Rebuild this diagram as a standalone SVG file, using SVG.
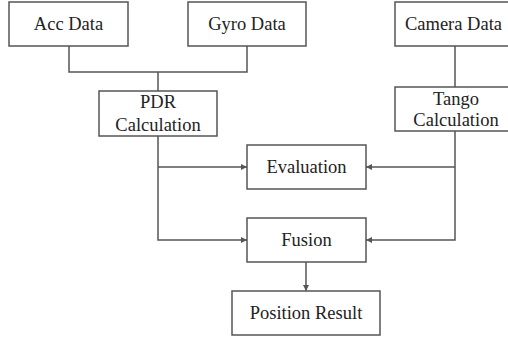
<svg xmlns="http://www.w3.org/2000/svg" width="508" height="339" viewBox="0 0 508 339">
<defs>
<marker id="arr" viewBox="0 0 10 10" refX="10" refY="5" markerWidth="7" markerHeight="6" markerUnits="userSpaceOnUse" orient="auto">
<path d="M0,0 L10,5 L0,10 z" fill="#555"/>
</marker>
</defs>
<style>
.box{fill:#fff;stroke:#555;stroke-width:1.5}
.t{font-family:"Liberation Serif","Times New Roman",serif;font-size:18.5px;fill:#222;text-anchor:middle}
.c{fill:none;stroke:#555;stroke-width:1.5}
</style>
<rect width="508" height="339" fill="#fff"/>
<g id="connectors">
<path class="c" d="M69,46 V72 H247 V46"/>
<path class="c" d="M158,72 V91"/>
<path class="c" d="M455,46 V87"/>
<path class="c" d="M158,136 V240 H247" marker-end="url(#arr)"/>
<path class="c" d="M158,167 H247" marker-end="url(#arr)"/>
<path class="c" d="M455,131 V240 H366" marker-end="url(#arr)"/>
<path class="c" d="M455,167 H366" marker-end="url(#arr)"/>
<path class="c" d="M306,262 V291" marker-end="url(#arr)"/>
</g>
<g id="acc"><rect class="box" x="9" y="2" width="119" height="44"/><text class="t" x="68.5" y="30">Acc Data</text></g>
<g id="gyro"><rect class="box" x="188" y="2" width="118" height="44"/><text class="t" x="247" y="30">Gyro Data</text></g>
<g id="camera"><rect class="box" x="395" y="2" width="114" height="44"/><text class="t" x="453.5" y="30">Camera Data</text></g>
<g id="pdr"><rect class="box" x="99" y="91" width="118" height="45"/><text class="t" x="158" y="108">PDR</text><text class="t" x="158" y="131">Calculation</text></g>
<g id="tango"><rect class="box" x="395" y="87" width="114" height="44"/><text class="t" x="456" y="105">Tango</text><text class="t" x="456" y="126">Calculation</text></g>
<g id="evaluation"><rect class="box" x="247" y="145" width="119" height="44"/><text class="t" x="306.5" y="173">Evaluation</text></g>
<g id="fusion"><rect class="box" x="247" y="218" width="119" height="44"/><text class="t" x="306.5" y="246">Fusion</text></g>
<g id="position"><rect class="box" x="232" y="291" width="148" height="44"/><text class="t" x="306" y="319">Position Result</text></g>
</svg>
